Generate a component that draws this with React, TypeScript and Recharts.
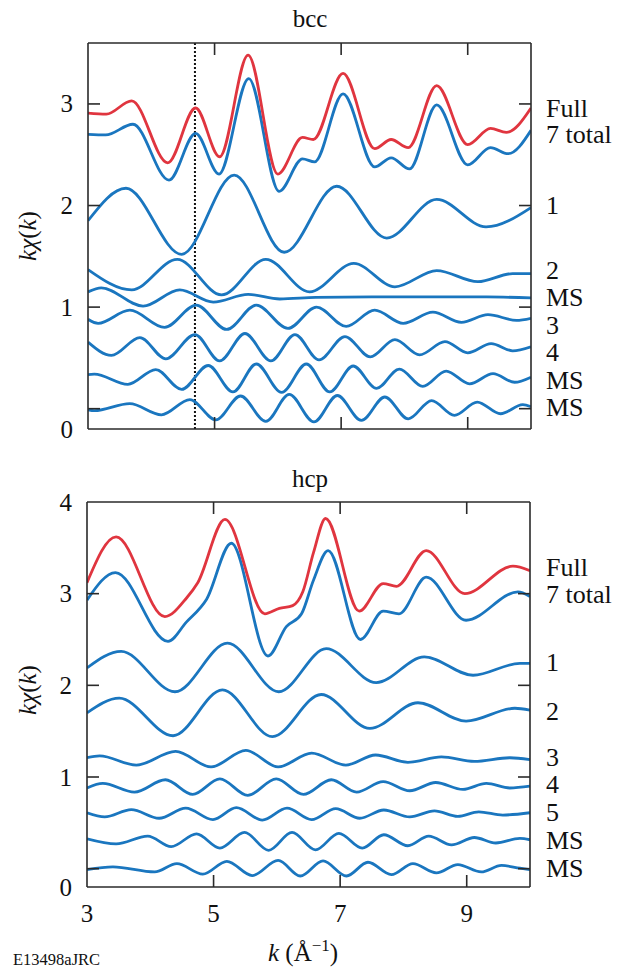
import React from "react";
import { LineChart, Line, XAxis, YAxis, ReferenceLine } from "recharts";

type P = [number, number];

// ---------- data ----------
const kTicks = [3, 5, 7, 9];
const bccYTicks = [0, 1, 2, 3];
const hcpYTicks = [0, 1, 2, 3, 4];
const bccMarkerK = 4.69;

const bccFull: P[] = [[3.0,2.91],[3.29,2.90],[3.69,3.03],[4.26,2.42],[4.70,2.96],[5.08,2.48],[5.53,3.48],[6.0,2.31],[6.39,2.67],[6.56,2.65],[7.03,3.30],[7.53,2.56],[7.79,2.65],[8.06,2.57],[8.51,3.18],[9.0,2.60],[9.36,2.76],[9.61,2.72],[10.0,2.96]];
const bccTotal: P[] = [[3.0,2.70],[3.28,2.695],[3.71,2.80],[4.28,2.25],[4.70,2.71],[5.07,2.31],[5.54,3.25],[6.02,2.14],[6.39,2.46],[6.58,2.43],[7.03,3.10],[7.53,2.38],[7.79,2.47],[8.08,2.36],[8.51,2.99],[9.0,2.40],[9.36,2.57],[9.64,2.51],[10.0,2.74]];
const bcc1: P[] = [[3.0,1.85],[3.60,2.17],[4.48,1.52],[5.31,2.30],[6.1,1.54],[6.93,2.19],[7.72,1.68],[8.51,2.06],[9.29,1.79],[10.0,1.98]];
const bcc2: P[] = [[3.0,1.37],[3.69,1.17],[4.41,1.47],[5.11,1.12],[5.81,1.47],[6.50,1.15],[7.20,1.43],[7.85,1.20],[8.51,1.36],[9.16,1.25],[9.71,1.33],[10.0,1.33]];
const bccMSa: P[] = [[3.0,1.15],[3.21,1.19],[3.87,1.01],[4.45,1.17],[4.98,1.05],[5.53,1.125],[6.03,1.08],[6.6,1.095],[7.5,1.10],[8.5,1.10],[9.3,1.10],[10.0,1.09]];
const bcc3: P[] = [[3.0,0.88],[3.16,0.84],[3.66,0.97],[4.21,0.80],[4.71,1.02],[5.19,0.78],[5.66,1.02],[6.16,0.79],[6.61,1.00],[7.08,0.81],[7.53,0.97],[7.98,0.84],[8.45,0.95],[8.90,0.85],[9.32,0.925],[9.77,0.87],[10.0,0.89]];
const bcc4: P[] = [[3.0,0.655],[3.37,0.525],[3.82,0.70],[4.23,0.49],[4.69,0.73],[5.08,0.47],[5.48,0.74],[5.89,0.47],[6.27,0.73],[6.65,0.48],[7.06,0.71],[7.46,0.51],[7.85,0.68],[8.24,0.53],[8.64,0.66],[9.0,0.55],[9.37,0.64],[9.71,0.57],[10.0,0.61]];
const bccMSb: P[] = [[3.0,0.335],[3.1,0.34],[3.63,0.24],[4.07,0.385],[4.48,0.19],[4.90,0.425],[5.29,0.165],[5.66,0.44],[6.06,0.16],[6.45,0.44],[6.82,0.165],[7.19,0.42],[7.56,0.20],[7.92,0.39],[8.29,0.22],[8.66,0.37],[9.03,0.245],[9.40,0.345],[9.74,0.26],[10.0,0.31]];
const bccMSc: P[] = [[3.0,-0.01],[3.1,-0.02],[3.66,0.05],[4.16,-0.06],[4.61,0.09],[5.02,-0.11],[5.41,0.125],[5.81,-0.125],[6.18,0.14],[6.57,-0.13],[6.94,0.13],[7.32,-0.115],[7.69,0.115],[8.06,-0.10],[8.43,0.08],[8.79,-0.065],[9.15,0.065],[9.52,-0.05],[9.87,0.04],[10.0,0.02]];

const hcpFull: P[] = [[3.0,3.12],[3.46,3.62],[4.23,2.75],[4.57,2.95],[4.75,3.12],[5.18,3.81],[5.81,2.78],[6.04,2.84],[6.25,2.87],[6.41,3.02],[6.58,3.45],[6.77,3.82],[7.30,2.81],[7.68,3.11],[7.89,3.08],[8.36,3.47],[8.97,3.00],[9.73,3.30],[10.0,3.25]];
const hcpTotal: P[] = [[3.0,2.93],[3.45,3.23],[4.28,2.48],[4.57,2.69],[4.89,2.94],[5.28,3.55],[5.86,2.32],[6.15,2.64],[6.39,2.78],[6.58,3.15],[6.81,3.47],[7.32,2.50],[7.68,2.81],[7.93,2.78],[8.36,3.18],[8.99,2.71],[9.81,3.02],[10.0,2.97]];
const hcp1: P[] = [[3.0,2.19],[3.54,2.37],[4.39,1.93],[5.22,2.46],[6.03,1.93],[6.78,2.40],[7.57,2.03],[8.33,2.31],[9.10,2.11],[9.84,2.24],[10.0,2.24]];
const hcp2: P[] = [[3.0,1.70],[3.51,1.86],[4.36,1.45],[5.14,1.95],[5.93,1.44],[6.70,1.90],[7.47,1.53],[8.23,1.81],[8.99,1.61],[9.76,1.75],[10.0,1.73]];
const hcp3: P[] = [[3.0,1.21],[3.20,1.23],[3.78,1.13],[4.40,1.28],[4.96,1.11],[5.51,1.29],[6.02,1.11],[6.55,1.26],[7.09,1.13],[7.56,1.24],[8.07,1.16],[8.60,1.22],[9.12,1.17],[9.68,1.21],[10.0,1.19]];
const hcp4: P[] = [[3.0,0.88],[3.25,0.93],[3.75,0.835],[4.24,0.97],[4.67,0.81],[5.10,0.98],[5.54,0.80],[5.99,0.98],[6.42,0.81],[6.86,0.97],[7.26,0.835],[7.68,0.95],[8.10,0.85],[8.51,0.94],[8.94,0.865],[9.31,0.93],[9.68,0.88],[10.0,0.90]];
const hcp5: P[] = [[3.0,0.61],[3.28,0.565],[3.70,0.645],[4.14,0.55],[4.56,0.66],[4.99,0.535],[5.36,0.665],[5.77,0.53],[6.16,0.66],[6.55,0.535],[6.93,0.655],[7.31,0.55],[7.69,0.64],[8.10,0.565],[8.49,0.63],[8.86,0.57],[9.19,0.62],[9.57,0.585],[10.0,0.61]];
const hcpMSa: P[] = [[3.0,0.325],[3.46,0.27],[3.96,0.355],[4.33,0.24],[4.73,0.38],[5.10,0.225],[5.49,0.395],[5.87,0.20],[6.24,0.395],[6.61,0.205],[6.98,0.385],[7.35,0.225],[7.69,0.37],[8.07,0.25],[8.40,0.355],[8.76,0.26],[9.12,0.34],[9.46,0.28],[9.84,0.33],[10.0,0.315]];
const hcpMSb: P[] = [[3.0,-0.01],[3.41,0.02],[4.07,-0.035],[4.42,0.055],[4.83,-0.06],[5.21,0.08],[5.61,-0.075],[6.02,0.09],[6.37,-0.08],[6.73,0.085],[7.10,-0.08],[7.44,0.07],[7.81,-0.065],[8.15,0.055],[8.52,-0.045],[8.86,0.045],[9.23,-0.035],[9.55,0.035],[9.84,0.005],[10.0,-0.01]];

const bccLabels = ["Full", "7 total", "1", "2", "MS", "3", "4", "MS", "MS"];
const hcpLabels = ["Full", "7 total", "1", "2", "3", "4", "5", "MS", "MS"];

// ---------- styling / layout ----------
const RED = "#e0353f";
const BLUE = "#1a76bf";
const AXIS = "#2a2a2a";
const FONT = "Liberation Serif, serif";
const toRows = (d: P[]) => d.map(([k, v]) => ({ k, v }));

const bccSeries = [
  { d: bccMSc, c: BLUE }, { d: bccMSb, c: BLUE }, { d: bcc4, c: BLUE }, { d: bcc3, c: BLUE },
  { d: bccMSa, c: BLUE }, { d: bcc2, c: BLUE }, { d: bcc1, c: BLUE }, { d: bccTotal, c: BLUE }, { d: bccFull, c: RED },
];
const hcpSeries = [
  { d: hcpMSb, c: BLUE }, { d: hcpMSa, c: BLUE }, { d: hcp5, c: BLUE }, { d: hcp4, c: BLUE },
  { d: hcp3, c: BLUE }, { d: hcp2, c: BLUE }, { d: hcp1, c: BLUE }, { d: hcpTotal, c: BLUE }, { d: hcpFull, c: RED },
];

const bccLabelY = [116.5, 143, 213.5, 278.5, 305.5, 333.5, 360.5, 388.5, 415.5];
const hcpLabelY = [575.5, 602.5, 670.5, 719.5, 765.5, 792.5, 820.5, 848.5, 876.5];

const TICK = 12;

type PanelProps = {
  top: number;
  height: number;
  plot: { left: number; right: number; top: number; bottom: number };
  yDomain: [number, number];
  yTicks: number[];
  series: { d: P[]; c: string }[];
  marker?: number;
  xLabels: boolean;
};

const txtStyle = { fontFamily: FONT };

function Panel({ top, height, plot, yDomain, yTicks, series, marker, xLabels }: PanelProps) {
  const { left, right, bottom } = plot;
  const ptop = plot.top;
  // axes take 1px each, so margins are the plot edges minus one
  const margin = { left: left - 1, right: 623 - right - 1, top: ptop - 1, bottom: height - bottom - 1 };
  const axisLine = { stroke: AXIS, strokeWidth: 1.6 };

  const leftTick = (p: any) => {
    const v = p.payload.value;
    const y = p.y;
    return (
      <g>
        {v !== yDomain[1] && <line x1={left} x2={left + TICK} y1={y} y2={y} stroke={AXIS} strokeWidth={1.6} />}
        <text x={left - 15} y={v === 0 ? bottom : y} textAnchor="end" dominantBaseline="central"
          style={txtStyle} fontSize={25} fill="#111">{v}</text>
      </g>
    );
  };
  const rightTick = (p: any) => {
    const v = p.payload.value;
    const y = p.y;
    if (v === yDomain[1]) return <g />;
    return <line x1={right - TICK} x2={right} y1={y} y2={y} stroke={AXIS} strokeWidth={1.6} />;
  };
  const bottomTick = (p: any) => {
    const v = p.payload.value;
    const x = p.x;
    return (
      <g>
        {v !== 3 && <line x1={x} x2={x} y1={bottom} y2={bottom - TICK} stroke={AXIS} strokeWidth={1.6} />}
        {xLabels && (
          <text x={x} y={bottom + 26} textAnchor="middle" dominantBaseline="central"
            style={txtStyle} fontSize={25} fill="#111">{v}</text>
        )}
      </g>
    );
  };
  const topTick = (p: any) => {
    const v = p.payload.value;
    const x = p.x;
    if (v === 3) return <g />;
    return <line x1={x} x2={x} y1={ptop} y2={ptop + TICK} stroke={AXIS} strokeWidth={1.6} />;
  };

  return (
    <div style={{ position: "absolute", left: 0, top, width: 623, height }}>
      <LineChart width={623} height={height} margin={margin}>
        <XAxis xAxisId="b" type="number" dataKey="k" domain={[3, 10]} ticks={kTicks} interval={0}
          allowDataOverflow orientation="bottom" height={1} axisLine={axisLine} tickLine={false} tick={bottomTick} />
        <XAxis xAxisId="t" type="number" dataKey="k" domain={[3, 10]} ticks={kTicks} interval={0}
          allowDataOverflow orientation="top" height={1} axisLine={axisLine} tickLine={false} tick={topTick} />
        <YAxis yAxisId="l" type="number" domain={yDomain} ticks={yTicks} interval={0}
          allowDataOverflow orientation="left" width={1} axisLine={axisLine} tickLine={false} tick={leftTick} />
        <YAxis yAxisId="r" type="number" domain={yDomain} ticks={yTicks} interval={0}
          allowDataOverflow orientation="right" width={1} axisLine={axisLine} tickLine={false} tick={rightTick} />
        {marker !== undefined && (
          <ReferenceLine xAxisId="b" yAxisId="l" x={marker} stroke="#111" strokeWidth={2} strokeDasharray="2 2" />
        )}
        {series.map((s, i) => (
          <Line key={i} xAxisId="b" yAxisId="l" data={toRows(s.d)} dataKey="v" type="monotone"
            stroke={s.c} strokeWidth={2.8} dot={false} activeDot={false} isAnimationActive={false} />
        ))}
      </LineChart>
    </div>
  );
}

export default function App() {
  return (
    <div style={{ position: "absolute", left: 0, top: 0, width: 623, height: 968, background: "#fff", overflow: "hidden" }}>
      <Panel top={0} height={452} plot={{ left: 88, right: 531, top: 43, bottom: 429 }}
        yDomain={[-0.2, 3.6]} yTicks={bccYTicks} series={bccSeries} marker={bccMarkerK} xLabels={false} />
      <Panel top={460} height={508} plot={{ left: 87, right: 530, top: 42, bottom: 427 }}
        yDomain={[-0.2, 4]} yTicks={hcpYTicks} series={hcpSeries} xLabels={true} />
      <svg width={623} height={968} style={{ position: "absolute", left: 0, top: 0, pointerEvents: "none", fontFamily: FONT }}
        fill="#111">
        <text x={310} y={27} textAnchor="middle" fontSize={25}>bcc</text>
        <text x={310} y={487} textAnchor="middle" fontSize={25}>hcp</text>
        <text x={36} y={236} textAnchor="middle" fontSize={25} transform="rotate(-90 36 236)">
          <tspan fontStyle="italic">k</tspan><tspan fontStyle="italic">χ</tspan>(<tspan fontStyle="italic">k</tspan>)
        </text>
        <text x={36} y={690} textAnchor="middle" fontSize={25} transform="rotate(-90 36 690)">
          <tspan fontStyle="italic">k</tspan><tspan fontStyle="italic">χ</tspan>(<tspan fontStyle="italic">k</tspan>)
        </text>
        {bccLabels.map((t, i) => (
          <text key={"b" + i} x={546} y={bccLabelY[i]} fontSize={26}>{t}</text>
        ))}
        {hcpLabels.map((t, i) => (
          <text key={"h" + i} x={546} y={hcpLabelY[i]} fontSize={26}>{t}</text>
        ))}
        <text x={268} y={961} fontSize={25}>
          <tspan fontStyle="italic">k</tspan><tspan> (Å</tspan><tspan dy={-10} fontSize={17}>−1</tspan><tspan dy={10}>)</tspan>
        </text>
        <text x={13} y={965} fontSize={16.5}>E13498aJRC</text>
      </svg>
    </div>
  );
}
